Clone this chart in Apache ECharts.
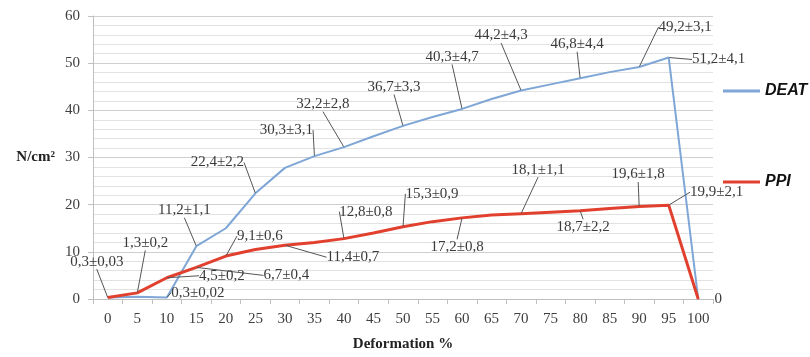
<!DOCTYPE html>
<html>
<head>
<meta charset="utf-8">
<script src="https://cdn.jsdelivr.net/npm/echarts@6/dist/echarts.min.js"></script>
<style>html,body{margin:0;padding:0;background:#fff}#c{width:810px;height:357px}</style>
</head>
<body>
<div id="c"></div>
<script>
const xLabels = ['0','5','10','15','20','25','30','35','40','45','50','55','60','65','70','75','80','85','90','95','100'];
const deat = [0.3, 0.5, 0.3, 11.2, 15.0, 22.4, 27.8, 30.3, 32.2, 34.5, 36.7, 38.6, 40.3, 42.4, 44.2, 45.5, 46.8, 48.1, 49.2, 51.2, 0];
const ppi  = [0.3, 1.3, 4.5, 6.7, 9.1, 10.5, 11.4, 12.0, 12.8, 14.0, 15.3, 16.4, 17.2, 17.8, 18.1, 18.4, 18.7, 19.2, 19.6, 19.9, 0];
const deatText = ['', '', '0,3±0,02', '11,2±1,1', '', '22,4±2,2', '', '30,3±3,1', '32,2±2,8', '', '36,7±3,3', '', '40,3±4,7', '', '44,2±4,3', '', '46,8±4,4', '', '49,2±3,1', '51,2±4,1', ''];
const ppiText  = ['0,3±0,03', '1,3±0,2', '4,5±0,2', '6,7±0,4', '9,1±0,6', '', '11,4±0,7', '', '12,8±0,8', '', '15,3±0,9', '', '17,2±0,8', '', '18,1±1,1', '', '18,7±2,2', '', '19,6±1,8', '19,9±2,1', '0'];
const yTicks = [0, 10, 20, 30, 40, 50, 60];

// label offsets (pixels, label centre relative to point)
const deatOff = {2:[31,-5], 3:[-12,-36], 5:[-38,-31], 7:[-28,-26], 8:[-21,-43], 10:[-9,-39], 12:[-10,-52], 14:[-20,-55], 16:[-3,-34], 18:[46,-40], 19:[50,2]};
const ppiOff  = {0:[-11,-36], 1:[8,-50], 2:[55,-2], 3:[90,8], 4:[34,-20], 6:[68,12], 8:[22,-27], 10:[29,-33], 12:[-5,29], 14:[17,-44], 16:[3,16], 18:[-1,-32], 19:[48,-13], 20:[20,0]};

const labelFont = {fontFamily: 'Liberation Serif', fontSize: 15, color: '#3a3a3a'};
const legendFont = {fontFamily: 'Liberation Sans', fontStyle: 'italic', fontWeight: 'bold', fontSize: 16, color: '#111'};

function build(vals, texts) {
  return vals.map((v, i) => ({
    value: v,
    label: {show: texts[i] !== ''},
    labelLine: {show: texts[i] !== '' && texts[i] !== '0'}
  }));
}
function mkLayout(off) {
  return function (p) {
    const o = off[p.dataIndex];
    return o ? {dx: o[0], dy: o[1], hideOverlap: false} : {};
  };
}

const chart = echarts.init(document.getElementById('c'), null, {renderer: 'canvas'});
chart.setOption({
  backgroundColor: '#ffffff',
  animation: false,
  grid: {left: 93, right: 97, top: 16, bottom: 54},
  legend: [
    {data: ['DEAT'], left: 718, top: 78, icon: 'rect', itemWidth: 37, itemHeight: 3, itemGap: 0, textStyle: legendFont},
    {data: ['PPI'], left: 718, top: 169, icon: 'rect', itemWidth: 37, itemHeight: 3, itemGap: 0, textStyle: legendFont}
  ],
  xAxis: {
    type: 'category', data: xLabels, boundaryGap: true,
    name: 'Deformation %', nameLocation: 'middle', nameGap: 38,
    nameTextStyle: {fontFamily: 'Liberation Serif', fontWeight: 'bold', fontSize: 15, color: '#222'},
    axisLine: {lineStyle: {color: '#bfbfbf'}},
    axisTick: {show: true, length: 5, lineStyle: {color: '#bfbfbf'}},
    axisLabel: {fontFamily: 'Liberation Serif', fontSize: 15, color: '#404040', margin: 13},
    splitLine: {show: false}
  },
  yAxis: {
    type: 'value', min: 0, max: 60, interval: 10,
    name: 'N/cm²', nameLocation: 'middle', nameRotate: 0, nameGap: 38,
    nameTextStyle: {fontFamily: 'Liberation Serif', fontWeight: 'bold', fontSize: 15, color: '#222'},
    axisLine: {show: true, lineStyle: {color: '#bfbfbf'}},
    axisTick: {show: true, length: 5, lineStyle: {color: '#bfbfbf'}},
    axisLabel: {fontFamily: 'Liberation Serif', fontSize: 15, color: '#404040', margin: 13,
      formatter: v => (yTicks.indexOf(v) >= 0 ? String(v) : '')},
    splitLine: {lineStyle: {color: '#cfcfcf'}},
    minorTick: {show: false, splitNumber: 5},
    minorSplitLine: {show: true, lineStyle: {color: '#e2e2e2'}}
  },
  series: [
    {
      name: 'DEAT', type: 'line', data: build(deat, deatText),
      symbol: 'circle', symbolSize: 1, showSymbol: true,
      lineStyle: {color: '#7ea6d6', width: 2}, itemStyle: {color: '#7ea6d6'},
      label: Object.assign({position: 'inside', formatter: p => deatText[p.dataIndex]}, labelFont),
      labelLine: {lineStyle: {color: '#555', width: 1}},
      labelLayout: mkLayout(deatOff),
      emphasis: {disabled: true}, z: 2
    },
    {
      name: 'PPI', type: 'line', data: build(ppi, ppiText),
      symbol: 'circle', symbolSize: 1, showSymbol: true,
      lineStyle: {color: '#e2402e', width: 3}, itemStyle: {color: '#e2402e'},
      label: Object.assign({position: 'inside', formatter: p => ppiText[p.dataIndex]}, labelFont),
      labelLine: {lineStyle: {color: '#555', width: 1}},
      labelLayout: mkLayout(ppiOff),
      emphasis: {disabled: true}, z: 3
    }
  ]
});
</script>
</body>
</html>
